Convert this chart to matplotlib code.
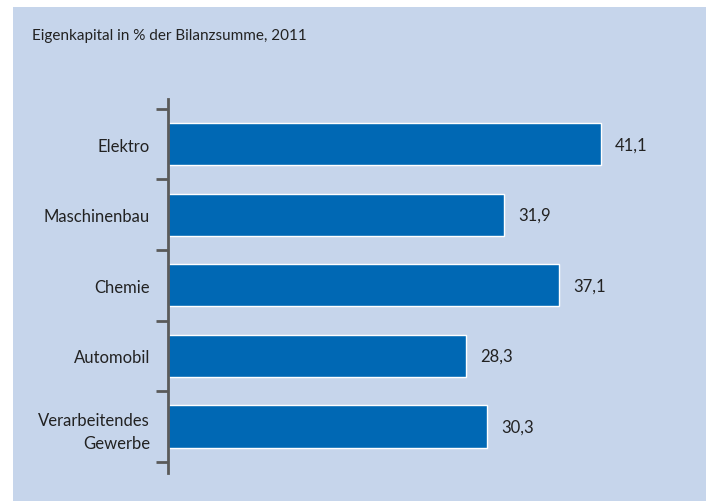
import matplotlib.pyplot as plt
import numpy as np
from matplotlib.patches import Rectangle

categories = ["Elektro", "Maschinenbau", "Chemie", "Automobil", "Verarbeitendes\nGewerbe"]
values = [41.1, 31.9, 37.1, 28.3, 30.3]
value_labels = ["41,1", "31,9", "37,1", "28,3", "30,3"]
title = "Eigenkapital in % der Bilanzsumme, 2011"

BG = "#c6d5eb"
BAR = "#0068b4"
TEXT = "#222222"
AXIS = "#5a5a5a"
FONT = ["Lato", "DejaVu Sans"]

W, H = 706, 502
fig = plt.figure(figsize=(W / 100, H / 100), dpi=100)
fig.patch.set_facecolor("white")
fig.patches.append(Rectangle((13 / W, 0), 1, 1 - 8 / H, transform=fig.transFigure,
                             facecolor=BG, edgecolor="none", zorder=-5))

fig.text(32 / W, 1 - 40 / H, title, fontsize=11, color=TEXT, family=FONT,
         va="baseline", ha="left")

# axes: left spine at x=168, from y=100 to y=474
ax = fig.add_axes([168 / W, 1 - 474 / H, (695 - 168) / W, (474 - 100) / H])
ax.set_facecolor("none")
y = np.arange(len(categories))
bars = ax.barh(y, values, height=0.6, color=BAR, edgecolor="white", linewidth=1)
ax.set_ylim(4.66, -0.64)
ax.set_xlim(0, 50.0)

for spine in ["top", "right", "bottom"]:
    ax.spines[spine].set_visible(False)
ax.spines["left"].set_color(AXIS)
ax.spines["left"].set_linewidth(2)
ax.set_xticks([])
ax.set_yticks(np.arange(len(categories) + 1) - 0.5)
ax.set_yticklabels([])
ax.tick_params(axis="y", length=9, width=2, color=AXIS)
ax.set_yticks(y, minor=True)
ax.set_yticklabels(categories, minor=True, fontsize=12, color=TEXT, family=FONT,
                   ha="right", multialignment="right", linespacing=1.55)
ax.tick_params(axis="y", which="minor", length=0, pad=13)

for rect, lab in zip(bars, value_labels):
    ax.annotate(lab, (rect.get_width(), rect.get_y() + rect.get_height() / 2),
                xytext=(10, 0), textcoords="offset points", va="center", ha="left",
                fontsize=12, color=TEXT, family=FONT)

fig.savefig("out.png", dpi=100)
